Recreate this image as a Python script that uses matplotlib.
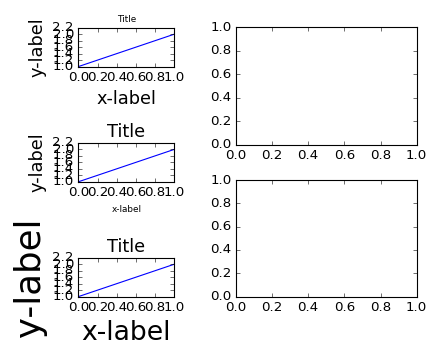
import matplotlib
matplotlib.use("Agg")
import matplotlib.pyplot as plt

line_y = [1, 2]
title_sizes = [8, 16, 16]
xlabel_sizes = [16, 8, 24]
ylabel_sizes = [16, 16, 32]

plt.style.use("classic")
plt.rcParams["font.size"] = 12
plt.rcParams["figure.facecolor"] = "white"
plt.rcParams["savefig.facecolor"] = "white"

fig = plt.figure(figsize=(5.5, 4.5), dpi=80)

left_rects = [(0.178, 0.815, 0.218, 0.108),
              (0.178, 0.495, 0.218, 0.108),
              (0.178, 0.176, 0.218, 0.108)]

for rect, ts, xs, ys in zip(left_rects, title_sizes, xlabel_sizes, ylabel_sizes):
    ax = fig.add_axes(rect)
    ax.plot(line_y)
    ax.set_ylim(1.0, 2.2)
    ax.set_yticks([1.0, 1.2, 1.4, 1.6, 1.8, 2.0, 2.2])
    ax.set_xlabel('x-label', fontsize=xs)
    ax.set_ylabel('y-label', fontsize=ys)
    ax.set_title('Title', fontsize=ts)

ax4 = fig.add_axes((0.536, 0.598, 0.411, 0.326))
ax5 = fig.add_axes((0.536, 0.176, 0.411, 0.324))

fig.savefig("out.png", dpi=80)
